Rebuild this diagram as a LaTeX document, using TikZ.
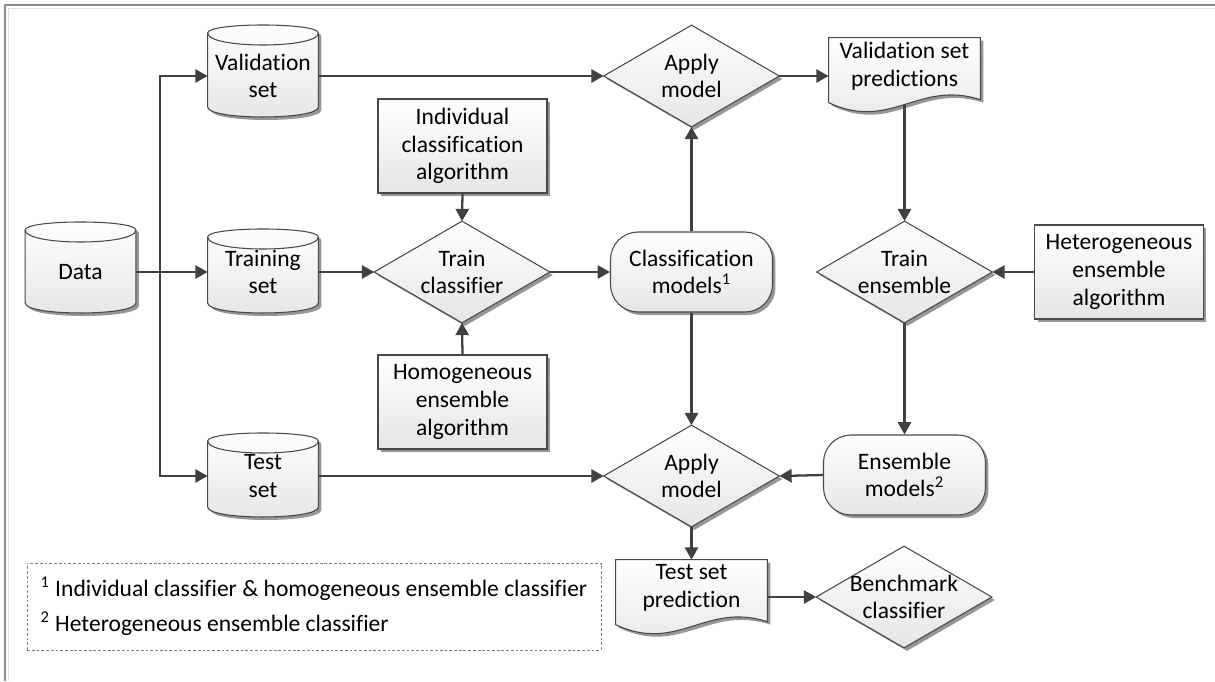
\documentclass[tikz,border=0pt]{standalone}
\usepackage{fontspec}
\setmainfont{Carlito}[Ligatures=CommonOff]
\usetikzlibrary{arrows.meta, calc, shadows, backgrounds}
\definecolor{linegray}{RGB}{64,64,64}
\definecolor{edgegray}{RGB}{72,72,72}
\definecolor{shadowgray}{RGB}{150,150,150}
\definecolor{boxgray}{RGB}{230,230,230}
\definecolor{framegray}{RGB}{140,140,140}

\newcommand{\boxfont}{\fontsize{13.4}{15.8}\selectfont}

% drum behind a node: name, rise above centre, drop below centre (px)
\newcommand{\drumshape}[3]{%
  \coordinate (#1 tl) at ([shift={(0,8-#2)}]#1.west);
  \coordinate (#1 tr) at ([shift={(0,8-#2)}]#1.east);
  \coordinate (#1 br) at ([shift={(0,#3-10)}]#1.east);
  \coordinate (#1 bl) at ([shift={(0,#3-10)}]#1.west);
  \fill[shadowgray, transform canvas={xshift=0.06cm, yshift=-0.06cm}]
    (#1 tl) .. controls +(0,-10.7) and +(0,-10.7) .. (#1 tr) -- (#1 br)
    .. controls +(0,13.3) and +(0,13.3) .. (#1 bl) -- cycle;
  \path[shapeline, shapefill]
    (#1 tl) .. controls +(0,-10.7) and +(0,-10.7) .. (#1 tr) -- (#1 br)
    .. controls +(0,13.3) and +(0,13.3) .. (#1 bl) -- cycle;
  \draw[shapeline] (#1 tl) .. controls +(0,16) and +(0,16) .. (#1 tr);
}
% document with wavy foot behind a node
\newcommand{\docshape}[1]{%
  \fill[shadowgray, transform canvas={xshift=0.06cm, yshift=-0.06cm}]
    (#1.north west) -- (#1.north east) -- ([shift={(0,62)}]#1.north east)
    .. controls +(-62,-20) and +(62,29) .. ([shift={(0,65)}]#1.north west) -- cycle;
  \path[shapeline, shapefill]
    (#1.north west) -- (#1.north east) -- ([shift={(0,62)}]#1.north east)
    .. controls +(-62,-20) and +(62,29) .. ([shift={(0,65)}]#1.north west) -- cycle;
}
% decision diamond behind a node
\newcommand{\decshape}[1]{%
  \fill[shadowgray, transform canvas={xshift=0.06cm, yshift=-0.06cm}]
    (#1.north) -- (#1.east) -- (#1.south) -- (#1.west) -- cycle;
  \path[shapeline, shapefill]
    (#1.north) -- (#1.east) -- (#1.south) -- (#1.west) -- cycle;
}

\begin{document}
\begin{tikzpicture}[x=0.02cm, y=-0.02cm,
  txt/.style={font=\boxfont, align=center, inner sep=0pt},
  drum/.style={txt, minimum width=2.2cm, minimum height=1.2cm},
  doc/.style={txt, minimum width=3.02cm, minimum height=1.12cm},
  decision/.style={txt, minimum width=3.5cm, minimum height=2.02cm},
  shapeline/.style={draw=edgegray, line width=0.6pt},
  shapefill/.style={top color=white, bottom color=boxgray},
  algo/.style={txt, shapeline, shapefill, minimum width=3.38cm, minimum height=1.88cm,
    drop shadow={shadow xshift=0.06cm, shadow yshift=-0.06cm, fill=shadowgray, opacity=1}},
  model/.style={algo, rounded corners=0.55cm, minimum width=3.24cm, minimum height=1.6cm},
  conn/.style={draw=linegray, line width=1.3pt, -{Triangle[length=7pt, width=7.5pt]}},
  notebox/.style={font=\boxfont, draw=gray, line width=0.4pt, dash pattern=on 1.6pt off 1.1pt,
    align=left, inner sep=0pt, minimum width=11.48cm, minimum height=1.74cm}]
  \useasboundingbox (0,0) rectangle (1215,681);
  \draw[framegray, line width=0.7pt] (1215,5) -- (5,5) -- (5,681);
  \draw[gray!25, line width=0.6pt] (1215,8.5) -- (8.5,8.5) -- (8.5,681);

  \node[drum] (data) at (80.5,272) {Data};
  \node[drum] (valset) at (263,76) {Validation\\set};
  \node[drum] (trainset) at (263,272) {Training\\set};
  \node[drum] (testset) at (263,476) {Test\\set};
  \node[algo] (indalg) at (462.5,146) {Individual\\classification\\algorithm};
  \node[decision] (trainclf) at (462,272) {Train\\classifier};
  \node[algo] (homalg) at (462.5,402) {Homogeneous\\ensemble\\algorithm};
  \node[decision] (apply1) at (691.5,76) {Apply\\model};
  \node[model] (clfmodels) at (691.5,272) {Classification\\models\textsuperscript{1}};
  \node[decision] (apply2) at (691.5,476) {Apply\\model};
  \node[doc] (valpred) at (904.5,66) {Validation set\\predictions};
  \node[decision] (trainens) at (904.5,272) {Train\\ensemble};
  \node[algo] (hetalg) at (1119,272) {Heterogeneous\\ensemble\\algorithm};
  \node[model] (ensmodels) at (904.5,475) {Ensemble\\models\textsuperscript{2}};
  \node[doc] (testpred) at (691.5,588) {Test set\\prediction};
  \node[decision] (bench) at (904,597) {Benchmark\\classifier};
  \node[notebox] (notes) at (314,606.5)
    {\textsuperscript{1} Individual classifier \& homogeneous ensemble classifier\\[4pt]
     \textsuperscript{2} Heterogeneous ensemble classifier};

  \begin{scope}[on background layer]
    \drumshape{data}{50}{41}
    \drumshape{valset}{51}{41}
    \drumshape{trainset}{43}{41}
    \drumshape{testset}{43}{41}
    \docshape{valpred}
    \docshape{testpred}
    \foreach \d in {trainclf, apply1, apply2, trainens, bench}
      {\decshape{\d}}
  \end{scope}

  \coordinate (split) at ($(data.east)!0.34!(trainset.west)$);
  \draw[conn] (data.east) -- (trainset.west);
  \draw[conn] (split) |- (valset.west);
  \draw[conn] (split) |- (testset.west);
  \draw[conn] (valset.east) -- (apply1.west);
  \draw[conn] (trainset.east) -- (trainclf.west);
  \draw[conn] (indalg.south) -- (trainclf.north);
  \draw[conn] (homalg.north) -- (trainclf.south);
  \draw[conn] (trainclf.east) -- (clfmodels.west);
  \draw[conn] (clfmodels.north) -- (apply1.south);
  \draw[conn] (clfmodels.south) -- (apply2.north);
  \draw[conn] (apply1.east) -- (apply1.east -| valpred.west);
  \draw[conn, shorten <=0.22cm] (valpred.south) -- (trainens.north);
  \draw[conn] (hetalg.west) -- (trainens.east);
  \draw[conn] (trainens.south) -- (ensmodels.north);
  \draw[conn] (ensmodels.west) -- (apply2.east);
  \draw[conn] (testset.east) -- (apply2.west);
  \draw[conn] (apply2.south) -- (testpred.north);
  \draw[conn] (testpred.east |- bench.west) -- (bench.west);
\end{tikzpicture}
\end{document}
